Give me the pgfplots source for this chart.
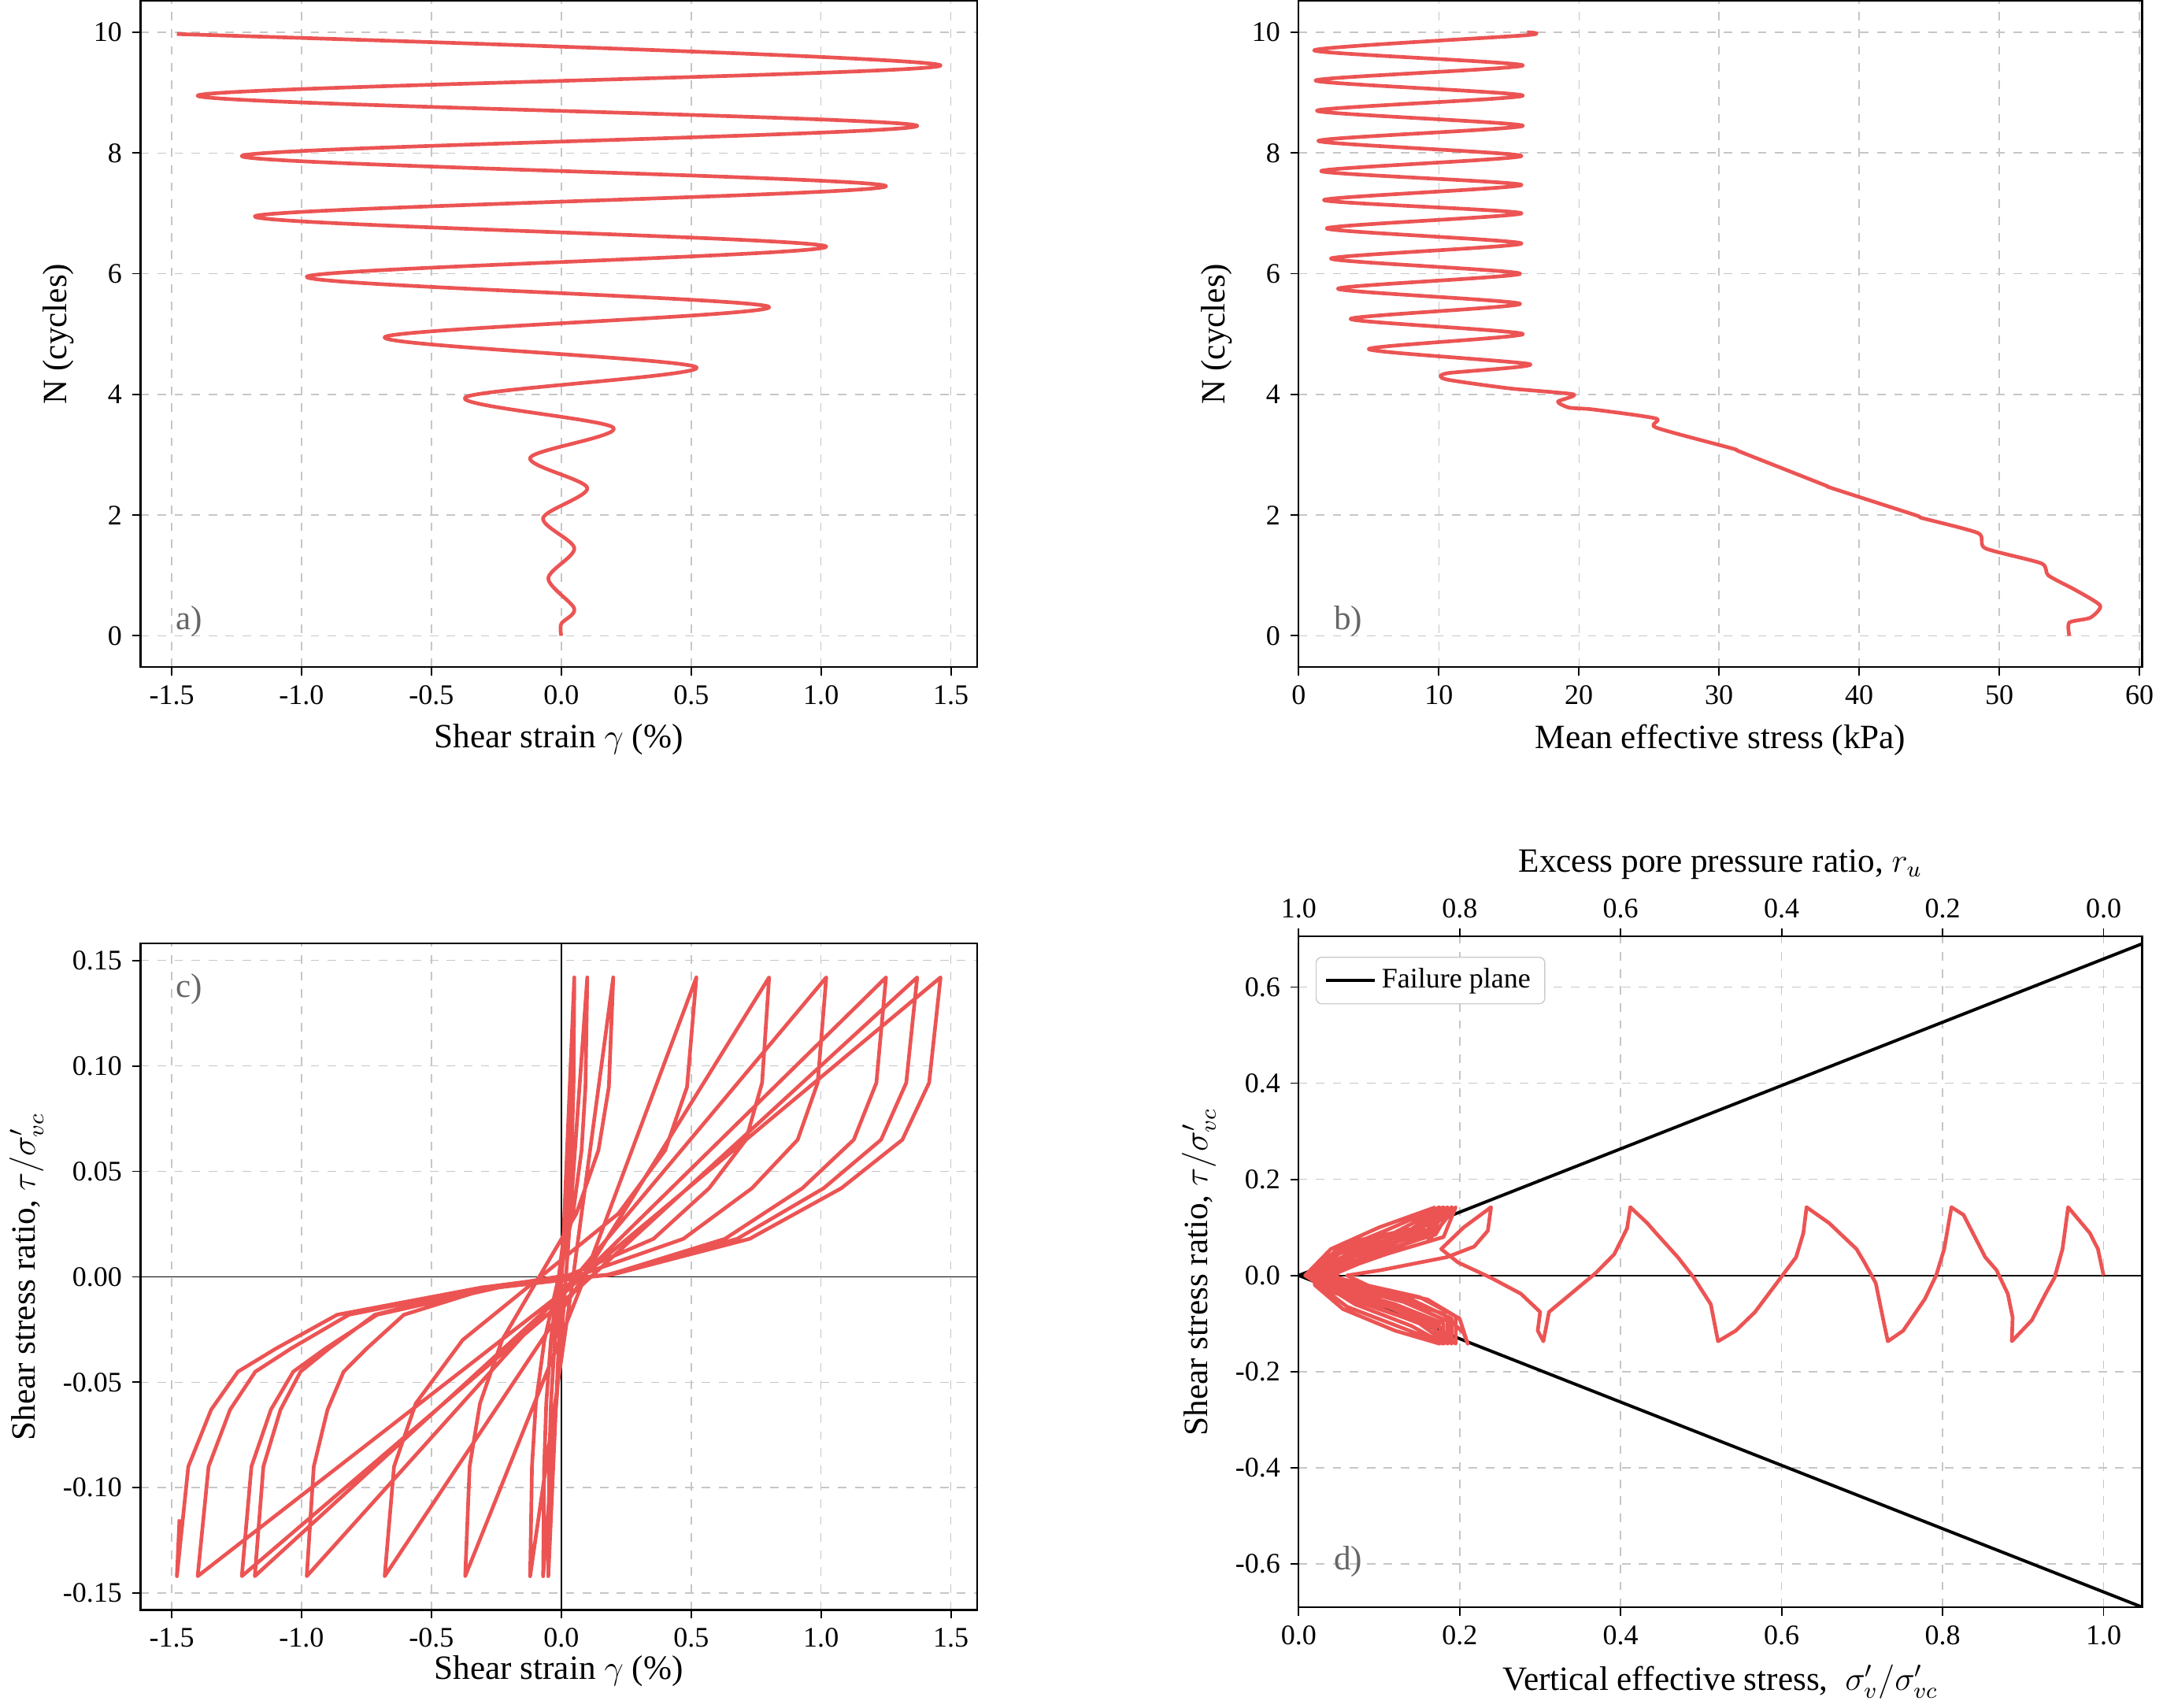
\documentclass[border=0pt]{standalone}
\usepackage{pgfplots}
\pgfplotsset{compat=1.18}
\usepackage{fontspec}
\setmainfont{Liberation Serif}
\definecolor{rline}{RGB}{236,84,84}
\begin{document}
\begin{tikzpicture}
\pgfplotsset{
  every axis/.append style={
    scale only axis, anchor=north west,
    tick align=outside, xtick pos=bottom, ytick pos=left,
    grid=major, grid style={dashed, gray!45, line width=0.4pt},
    tick style={black, line width=0.5pt}, major tick length=3pt,
    axis line style={line width=0.6pt},
    tick label style={font=\fontsize{10}{12}\selectfont},
    label style={font=\fontsize{12}{14}\selectfont},
    /pgf/number format/assume math mode=true,
  },
  rl/.style={rline, line width=1.3pt, no marks, line join=round},
}
% a)
\begin{axis}[at={(64pt,-2.5pt)}, width=295pt, height=235pt,
  xmin=-1.62, xmax=1.6, ymin=-0.52, ymax=10.52,
  xtick={-1.5,-1,-0.5,0,0.5,1,1.5}, ytick={0,2,4,6,8,10},
  xticklabel style={/pgf/number format/.cd,fixed,fixed zerofill,precision=1},
  xlabel={Shear strain $\gamma$ (\%)}, ylabel={N (cycles)}]
\addplot[rl, smooth, tension=0.5] coordinates {
(0,0)(0,0.2)(0.05,0.45)(-0.05,0.95)(0.05,1.45)(-0.07,1.95)(0.1,2.45)(-0.12,2.95)(0.2,3.45)(-0.37,3.95)(0.52,4.45)(-0.68,4.95)(0.8,5.45)(-0.98,5.95)(1.02,6.45)(-1.18,6.95)(1.25,7.45)(-1.23,7.95)(1.37,8.45)(-1.4,8.95)(1.46,9.45)(-1.48,9.97)};
\node[anchor=south west, gray!80!black, font=\fontsize{12}{14}\selectfont] at (rel axis cs:0.03,0.03) {a)};
\end{axis}
% b)
\begin{axis}[at={(472.5pt,-2.5pt)}, width=297.5pt, height=235pt,
  xmin=0, xmax=60.2, ymin=-0.52, ymax=10.52,
  xtick={0,10,20,30,40,50,60}, ytick={0,2,4,6,8,10},
  xlabel={Mean effective stress (kPa)}, ylabel={N (cycles)}]
\addplot[rl, smooth, tension=0.4] coordinates {
(55,0)(55,0.22)(56.5,0.3)(57.2,0.5)(55.5,0.75)(53.5,1.0)(53,1.2)(49,1.45)(48.5,1.7)(44.5,1.95)(44,2.0)(38,2.45)(37.5,2.5)(31.5,3.05)(31,3.1)(25.5,3.45)(25.5,3.6)(21,3.75)(19.3,3.78)(18.5,3.88)(19.6,4.0)(15,4.1)(10.5,4.25)(10.6,4.35)(16.5,4.5)(5,4.75)(16,5.0)(3.7,5.25)(15.8,5.5)(2.8,5.75)(15.8,6.0)(2.3,6.25)(15.9,6.5)(2,6.75)(15.9,7.0)(1.8,7.22)(15.9,7.47)(1.6,7.7)(15.9,7.95)(1.4,8.2)(16,8.45)(1.3,8.7)(16,8.95)(1.2,9.2)(16,9.45)(1.1,9.7)(16.2,9.95)(16.3,10)};
\node[anchor=south west, gray!80!black, font=\fontsize{12}{14}\selectfont] at (rel axis cs:0.03,0.03) {b)};
\end{axis}
% c)
\begin{axis}[at={(64pt,-335pt)}, width=295pt, height=235pt,
  xmin=-1.62, xmax=1.6, ymin=-0.158, ymax=0.158,
  xtick={-1.5,-1,-0.5,0,0.5,1,1.5}, ytick={-0.15,-0.1,-0.05,0,0.05,0.1,0.15},
  xticklabel style={/pgf/number format/.cd,fixed,fixed zerofill,precision=1},
  yticklabel style={/pgf/number format/.cd,fixed,fixed zerofill,precision=2},
  xlabel={Shear strain $\gamma$ (\%)}, ylabel={Shear stress ratio, $\tau/\sigma'_{vc}$},
  xlabel style={yshift=4pt}]
\addplot[black, line width=0.5pt] coordinates {(-1.62,0)(1.6,0)};
\addplot[black, line width=0.5pt] coordinates {(0,-0.158)(0,0.158)};
\addplot[rl] coordinates {
(0,0)(0.03,0.06)(0.05,0.142)
(0.047,0.09)(0.04,0.06)(0.025,0.03)(0,0)(-0.025,-0.03)(-0.04,-0.06)(-0.047,-0.09)(-0.05,-0.142)
(0,-0.005)(0.05,0.142)
(0.046,0.09)(0.038,0.06)(0.02,0.03)(-0.01,0)(-0.04,-0.03)(-0.058,-0.06)(-0.066,-0.09)(-0.07,-0.142)
(0.015,-0.005)(0.1,0.142)
(0.093,0.09)(0.078,0.06)(0.045,0.03)(-0.01,0)(-0.065,-0.03)(-0.098,-0.06)(-0.113,-0.09)(-0.12,-0.142)
(0.04,-0.005)(0.2,0.142)
(0.183,0.09)(0.143,0.06)(0.058,0.03)(-0.085,0)(-0.228,-0.03)(-0.313,-0.06)(-0.353,-0.09)(-0.37,-0.142)
(0.075,-0.005)(0.52,0.142)
(0.484,0.09)(0.4,0.06)(0.22,0.03)(-0.08,0)(-0.38,-0.03)(-0.56,-0.06)(-0.644,-0.09)(-0.68,-0.142)
(0.06,-0.005)(0.8,0.142)
(0.773,0.092)(0.711,0.065)(0.569,0.042)(0.355,0.018)(0.035,0.001)(-0.268,-0.005)(-0.606,-0.018)(-0.749,-0.034)(-0.838,-0.045)(-0.9,-0.063)(-0.953,-0.09)(-0.98,-0.142)
(0.02,-0.005)(1.02,0.142)
(0.987,0.092)(0.91,0.065)(0.734,0.042)(0.47,0.018)(0.074,0.001)(-0.3,-0.005)(-0.718,-0.018)(-0.894,-0.034)(-1.004,-0.045)(-1.081,-0.063)(-1.147,-0.09)(-1.18,-0.142)
(0.035,-0.005)(1.25,0.142)
(1.213,0.092)(1.126,0.065)(0.928,0.042)(0.63,0.018)(0.184,0.001)(-0.238,-0.005)(-0.709,-0.018)(-0.908,-0.034)(-1.032,-0.045)(-1.118,-0.063)(-1.193,-0.09)(-1.23,-0.142)
(0.07,-0.005)(1.37,0.142)
(1.328,0.092)(1.231,0.065)(1.01,0.042)(0.677,0.018)(0.179,0.001)(-0.292,-0.005)(-0.818,-0.018)(-1.04,-0.034)(-1.178,-0.045)(-1.275,-0.063)(-1.358,-0.09)(-1.4,-0.142)
(0.03,-0.005)(1.46,0.142)
(1.416,0.092)(1.313,0.065)(1.078,0.042)(0.725,0.018)(0.196,0.001)(-0.304,-0.005)(-0.863,-0.018)(-1.098,-0.034)(-1.245,-0.045)(-1.348,-0.063)(-1.436,-0.09)(-1.48,-0.142)
(-1.47,-0.115)};
\node[anchor=north west, gray!80!black, font=\fontsize{12}{14}\selectfont] at (rel axis cs:0.03,0.97) {c)};
\end{axis}
% d) top axis
\begin{axis}[at={(472.5pt,-332.5pt)}, width=297.5pt, height=236.5pt,
  xmin=0, xmax=1.048, ymin=-0.69, ymax=0.705,
  axis x line*=top, hide y axis, grid=none,
  xtick={0,0.2,0.4,0.6,0.8,1.0}, xticklabels={1.0,0.8,0.6,0.4,0.2,0.0},
  xtick pos=top, xlabel={Excess pore pressure ratio, $r_u$}]
\addplot[draw=none] coordinates {(0,0)};
\end{axis}
% d)
\begin{axis}[at={(472.5pt,-332.5pt)}, width=297.5pt, height=236.5pt,
  xmin=0, xmax=1.048, ymin=-0.69, ymax=0.705,
  xtick={0,0.2,0.4,0.6,0.8,1.0}, ytick={-0.6,-0.4,-0.2,0,0.2,0.4,0.6},
  xticklabel style={/pgf/number format/.cd,fixed,fixed zerofill,precision=1},
  yticklabel style={/pgf/number format/.cd,fixed,fixed zerofill,precision=1},
  xlabel={Vertical effective stress,\ \ $\sigma'_v/\sigma'_{vc}$}, ylabel={Shear stress ratio, $\tau/\sigma'_{vc}$},
  legend style={at={(0.02,0.97)}, anchor=north west, font=\fontsize{10}{12}\selectfont, draw=gray!40, rounded corners=2pt},
  legend cell align=left]
\addplot[black, line width=1.1pt] coordinates {(0,0)(1.048,0.69)};
\addlegendentry{Failure plane}
\addplot[black, line width=1.1pt, forget plot] coordinates {(0,0)(1.048,-0.69)};
\addplot[black, line width=0.5pt, forget plot] coordinates {(0,0)(1.048,0)};
\addplot[rl, forget plot] coordinates {
(1.0,0)(0.993,0.055)(0.983,0.088)(0.956,0.142)
(0.949,0.055)(0.939,-0.005)(0.928,-0.038)(0.911,-0.093)(0.886,-0.137)
(0.887,-0.087)(0.881,-0.038)(0.867,0.011)(0.853,0.038)(0.826,0.126)(0.811,0.142)
(0.802,0.055)(0.792,0)(0.778,-0.049)(0.751,-0.115)(0.732,-0.137)
(0.727,-0.098)(0.717,-0.016)(0.703,0.027)(0.693,0.055)(0.659,0.109)(0.631,0.142)
(0.627,0.088)(0.618,0.038)(0.601,0)(0.567,-0.076)(0.543,-0.115)(0.521,-0.137)
(0.512,-0.06)(0.491,-0.005)(0.471,0.038)(0.444,0.088)(0.433,0.109)(0.412,0.142)
(0.408,0.098)(0.392,0.044)(0.369,0.005)(0.334,-0.044)(0.311,-0.076)(0.304,-0.137)
(0.297,-0.115)(0.300,-0.076)(0.276,-0.038)(0.239,-0.005)(0.198,0.027)(0.177,0.055)(0.205,0.1)(0.239,0.142)
(0.235,0.093)(0.218,0.06)(0.184,0.038)(0.102,0.011)(0.06,0)
(0.11,-0.04)(0.18,-0.08)(0.205,-0.12)(0.21,-0.142)
(0.2,-0.09)(0.16,-0.05)(0.08,-0.02)(0.04,0)(0.09,0.035)(0.16,0.07)(0.195,0.142)
(0.18,0.08)(0.11,0.045)(0.05,0.01)(0.045,-0.01)(0.1,-0.05)(0.17,-0.1)(0.195,-0.142)
(0.195,-0.085)(0.15,-0.045)(0.07,-0.015)(0.03,0)(0.08,0.035)(0.15,0.075)(0.19,0.142)
(0.17,0.085)(0.1,0.05)(0.04,0.012)(0.04,-0.012)(0.09,-0.05)(0.16,-0.1)(0.19,-0.142)
(0.19,-0.09)(0.14,-0.05)(0.06,-0.018)(0.025,0)(0.07,0.04)(0.14,0.08)(0.185,0.142)
(0.165,0.09)(0.09,0.055)(0.035,0.015)(0.035,-0.015)(0.08,-0.055)(0.15,-0.1)(0.185,-0.142)
(0.185,-0.095)(0.13,-0.055)(0.05,-0.02)(0.02,0)(0.06,0.04)(0.13,0.085)(0.18,0.142)
(0.16,0.095)(0.08,0.06)(0.03,0.018)(0.03,-0.018)(0.07,-0.06)(0.14,-0.105)(0.18,-0.142)
(0.18,-0.1)(0.12,-0.06)(0.045,-0.025)(0.015,0)(0.05,0.045)(0.12,0.09)(0.18,0.142)
(0.155,0.1)(0.07,0.065)(0.025,0.02)(0.025,-0.02)(0.06,-0.065)(0.13,-0.11)(0.18,-0.142)
(0.175,-0.105)(0.11,-0.065)(0.04,-0.028)(0.01,0)(0.045,0.05)(0.11,0.095)(0.175,0.142)
(0.15,0.1)(0.065,0.07)(0.02,0.02)(0.02,-0.02)(0.055,-0.07)(0.12,-0.115)(0.175,-0.142)
(0.17,-0.11)(0.1,-0.07)(0.035,-0.03)(0.008,0)(0.04,0.055)(0.1,0.1)(0.17,0.142)};
\node[anchor=south west, gray!80!black, font=\fontsize{12}{14}\selectfont] at (rel axis cs:0.03,0.03) {d)};
\end{axis}
\end{tikzpicture}
\end{document}
